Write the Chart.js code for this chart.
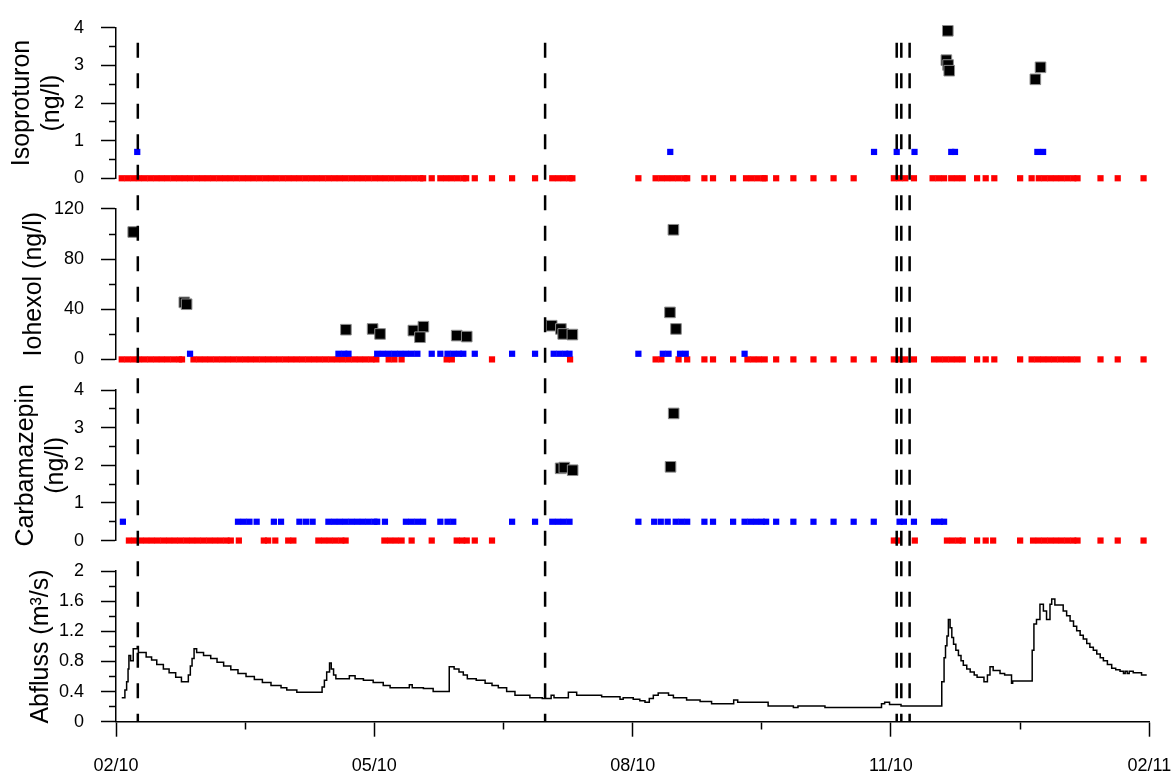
<!DOCTYPE html>
<html>
<head>
<meta charset="utf-8">
<title>Isoproturon, Iohexol, Carbamazepin und Abfluss</title>
<script src="https://cdn.jsdelivr.net/npm/chart.js@4.4.1/dist/chart.umd.min.js"></script>
<style>
  html, body { margin: 0; padding: 0; background: #fff; }
  #wrap { width: 1172px; height: 771px; }
</style>
</head>
<body>
<div id="wrap"><canvas id="chart" width="1172" height="771"></canvas></div>
<script>
// x = Tage seit Anfang 02/10, Achse in gleichen Abständen beschriftet
const X_LABELS = ['02/10', '05/10', '08/10', '11/10', '02/11'];
const EVENT_DAYS = [7.6, 149.5, 272.0, 273.6, 276.5];
const EVENT_TOP = 3.6; // Beginn der Linien in Isoproturon-Einheiten

// Isoproturon (ng/l)
const ISO_DAYS = [289.8, 289.3, 289.9, 290.3, 322.1, 320.3];
const ISO_VALUES = [3.92, 3.14, 3.01, 2.86, 2.95, 2.63];
const ISO_LOQ = 0.7;
const ISO_LOQ_DAYS = [7.4, 193.1, 264.1, 272.0, 278.2, 291.0, 292.3, 321.0, 323.0];
const ISO_ND_DAYS = [
  2, 4, 6, 8, 10, 12, 14, 16, 18, 20, 22, 24, 26, 28, 30, 32, 34, 36, 38, 40,
  42, 44, 46, 48, 50, 52, 54, 56, 58, 60, 62, 64, 66, 68, 70, 72, 74, 76, 78, 80,
  82, 84, 86, 88, 90, 92, 94, 96, 98, 100, 102, 104, 106, 107,
  110, 113, 115, 117, 119, 121, 122, 125, 131, 138, 146,
  152, 154, 156, 158, 159, 182,
  188, 190, 192, 194, 196, 198, 199, 205, 208, 215,
  219.5, 221.5, 223.5, 225.5, 226, 230, 236, 243, 250, 257,
  271, 273, 275, 278, 284.5, 286.5, 288.5, 291, 293, 295, 300, 303, 306,
  315, 319, 321.5, 323.5, 325.5, 327.5, 329.5, 331.5, 333.5, 335, 343, 349, 358
];

// Iohexol (ng/l)
const IOH_DAYS = [6.0, 23.8, 24.6, 80.1, 89.4, 92.0, 103.6, 107.1, 105.9, 118.7, 122.2,
  151.8, 155.0, 155.8, 159.0, 194.2, 193.0, 195.1];
const IOH_VALUES = [101.6, 45.5, 44.0, 23.7, 24.3, 20.3, 23.0, 26.1, 17.7, 19.0, 18.2,
  26.9, 24.3, 20.3, 19.8, 103.4, 37.5, 24.3];
const IOH_LOQ = 4.5;
const IOH_LOQ_DAYS = [25.8, 77.5, 79.5, 81, 91, 93, 95, 97, 99, 101, 103, 105, 110, 113,
  115.5, 117.5, 119.5, 121, 125, 138, 146, 152.5, 154.5, 156.5, 158, 182,
  190.5, 192.5, 196.5, 198.5, 219];
const IOH_ND_DAYS = [
  2, 4, 6, 8, 10, 12, 14, 16, 18, 20, 22, 23,
  27, 29, 31, 33, 35, 37, 39, 41, 43, 45, 47, 49, 51, 53, 55, 57, 59, 61, 63, 65,
  67, 69, 71, 73, 75, 77, 79, 81, 83, 85, 87, 89, 90.7,
  95, 97, 99.5, 115.2, 117, 131, 158.2, 188, 190, 196, 199, 205, 208, 215,
  220, 222, 224, 226, 230, 236, 243, 250, 257, 264,
  271, 273, 275, 278, 285, 287, 289, 291, 293, 295, 300, 303, 306, 315,
  319, 321, 323, 325, 327, 329, 331, 333, 335, 343, 349, 358
];

// Carbamazepin (ng/l)
const CARB_DAYS = [154.9, 156.2, 159.1, 194.3, 193.2];
const CARB_VALUES = [1.92, 1.94, 1.87, 3.38, 1.96];
const CARB_LOQ = 0.5;
const CARB_LOQ_DAYS = [2.4, 42.5, 44.5, 46.5, 49, 55, 57.5, 63.9, 66.2, 68.5,
  74, 76, 78, 80, 82, 84, 86, 88, 90, 91, 93.7, 101, 103, 105, 107, 113, 115.5, 117.5,
  138, 146, 152, 154, 156, 158, 182, 187.5, 189.8, 192.2, 195, 197, 199,
  205, 208, 215, 219, 221, 223, 225, 226.5, 230, 236, 243, 250, 257, 264,
  273, 274.5, 278, 285, 287, 288.5];
const CARB_ND_DAYS = [
  4.5, 6.5, 8.5, 10.5, 12.5, 14.5, 16.5, 18.5, 20.5, 22.5, 24.5, 26.5, 28.5, 30.5,
  32.5, 34.5, 36.5, 38.5, 40, 42.8, 51.5, 53, 55.5, 60, 61.8,
  70.5, 72.5, 74.5, 76.5, 78.5, 80, 93.5, 95.5, 97.5, 99.5, 103, 110,
  118.7, 120.6, 122.2, 125, 131,
  271, 272.5, 278.3, 289.5, 291.5, 293.5, 295, 300, 303, 305.6, 315,
  319.5, 321.5, 323.5, 325.5, 327.5, 329.5, 331.5, 333.5, 335, 343, 349, 358
];

// Abfluss (m³/s)
const Q_DAYS = [
  2, 3.1, 3.7, 4.2, 4.5, 5.1, 6.0, 7.4, 7.8, 10.5, 12.4, 14.2, 16.5, 18.5, 20.8, 22.8,
  25.2, 25.9, 26.5, 27.2, 28.1, 30.5, 33.0, 35.2, 37.5, 40.0, 42.5, 45.3, 48.2, 51.0,
  54.0, 57.5, 59.5, 63.0, 71.8, 72.6, 73.4, 74.4, 75.0, 75.8, 76.6, 81.3, 83.3, 86.2,
  89.6, 93.1, 95.5, 102.2, 103.2, 107.1, 110.5, 116.1, 117.8, 119.5, 121.0, 122.4,
  125.5, 128.6, 131.0, 133.2, 136.1, 139.0, 144.2, 148.5, 151.6, 152.6, 157.6, 160.5,
  169.2, 175.6, 176.7, 180.2, 182.5, 184.3, 185.8, 187.2, 188.9, 192.5, 194.2, 198.8,
  203.5, 207.5, 215.2, 216.6, 227.2, 236.0, 237.6, 247.0, 266.7, 267.8, 269.5, 273.5,
  287.7, 288.5, 289.0, 289.5, 290.0, 290.6, 291.2, 291.8, 292.6, 293.5, 294.4, 295.2,
  296.4, 297.6, 299.0, 300.0, 302.4, 303.6, 304.5, 305.6, 308.0, 309.6, 312.0, 312.4,
  319.2, 319.8, 320.7, 321.9, 323.1, 324.2, 325.4, 326.0, 327.1, 330.0, 331.2, 332.4,
  333.6, 334.7, 335.9, 337.0, 338.2, 339.3, 340.5, 341.7, 342.9, 344.0, 345.4, 346.9,
  348.3, 349.8, 351.0, 351.6, 352.3, 353.0, 354.4, 357.3, 359.1
];
const Q_VALUES = [
  0.32, 0.42, 0.53, 0.70, 0.88, 0.81, 0.97, 1.00, 0.92, 0.86, 0.82, 0.76, 0.70, 0.65, 0.59, 0.53,
  0.62, 0.74, 0.84, 0.97, 0.92, 0.88, 0.84, 0.79, 0.74, 0.69, 0.64, 0.60, 0.56, 0.52,
  0.48, 0.45, 0.42, 0.39, 0.46, 0.55, 0.66, 0.78, 0.70, 0.62, 0.57, 0.61, 0.57, 0.55,
  0.52, 0.48, 0.45, 0.49, 0.45, 0.44, 0.40, 0.73, 0.70, 0.66, 0.62, 0.57,
  0.55, 0.51, 0.48, 0.45, 0.40, 0.35, 0.32, 0.31, 0.35, 0.32, 0.39, 0.35,
  0.33, 0.30, 0.32, 0.30, 0.28, 0.26, 0.31, 0.35, 0.38, 0.35, 0.32, 0.29,
  0.27, 0.24, 0.29, 0.26, 0.21, 0.19, 0.21, 0.19, 0.24, 0.26, 0.23, 0.21,
  0.53, 0.85, 1.01, 1.14, 1.36, 1.25, 1.12, 1.03, 0.95, 0.88, 0.81, 0.75,
  0.70, 0.66, 0.62, 0.59, 0.53, 0.62, 0.73, 0.68, 0.64, 0.62, 0.51, 0.54,
  0.95, 1.30, 1.36, 1.56, 1.47, 1.36, 1.56, 1.63, 1.55, 1.47, 1.41, 1.34,
  1.27, 1.21, 1.15, 1.10, 1.04, 0.99, 0.95, 0.90, 0.85, 0.81, 0.76, 0.71,
  0.69, 0.67, 0.64, 0.67, 0.64, 0.67, 0.65, 0.62, 0.62
];

const FONT = "Arial, 'Liberation Sans', sans-serif";
Chart.defaults.font.family = FONT;
Chart.defaults.color = '#000';

const onStep = (v, step) => Math.abs(v / step - Math.round(v / step)) < 1e-6;
const toPoints = (days, values) =>
  days.map((d, i) => ({x: d, y: Array.isArray(values) ? values[i] : values}));

function panelAxis(weight, max, step, major, title, titlePad) {
  return {
    type: 'linear',
    position: 'left',
    stack: 'panels',
    stackWeight: 152,
    weight: weight,
    min: 0,
    max: max,
    afterFit: s => { s.width = 116; },
    border: {color: '#000', width: 1.5},
    grid: {
      drawOnChartArea: false,
      tickLength: 15,
      tickColor: '#000',
      tickWidth: 1.5,
      // kurze Zwischenstriche nur am Achsenrand
      tickBorderDash: c => (c.tick && !onStep(c.tick.value, major)) ? [0, 8, 30, 0] : []
    },
    ticks: {
      stepSize: step,
      autoSkip: false,
      padding: 17,
      color: '#000',
      font: {size: 18},
      callback: v => onStep(v, major) ? String(+v.toFixed(1)) : ''
    },
    title: {display: true, text: title, color: '#000', font: {size: 25}, padding: {top: titlePad, bottom: 0}}
  };
}

function gapAxis(weight) {
  return {
    type: 'linear', position: 'left', stack: 'panels', stackWeight: 31, weight: weight,
    afterFit: s => { s.width = 116; },
    border: {display: false}, grid: {display: false}, ticks: {display: false}
  };
}

// Punkte auf der Nulllinie dürfen über den Panelrand hinausragen
const detStyle = {pointStyle: 'rect', pointRadius: 7.5, backgroundColor: '#000', borderColor: '#8c8c8c', borderWidth: 1, clip: false};
const loqStyle = {pointStyle: 'rect', pointRadius: 4.4, backgroundColor: '#0000ff', borderWidth: 0, clip: false};
const ndStyle = {pointStyle: 'rect', pointRadius: 4.4, backgroundColor: '#ff0000', borderWidth: 0, clip: false};

const eventLines = {
  id: 'eventLines',
  afterDatasetsDraw(chart) {
    const {ctx, scales} = chart;
    const top = scales.yIso.getPixelForValue(EVENT_TOP);
    const bottom = scales.yQ.getPixelForValue(0);
    ctx.save();
    ctx.strokeStyle = '#000';
    ctx.lineWidth = 2.5;
    ctx.setLineDash([15, 15.5]);
    EVENT_DAYS.forEach(d => {
      const x = scales.x.getPixelForValue(d);
      ctx.beginPath();
      ctx.moveTo(x, top);
      ctx.lineTo(x, bottom);
      ctx.stroke();
    });
    ctx.restore();
  }
};

new Chart(document.getElementById('chart'), {
  type: 'scatter',
  data: {
    datasets: [
      {label: 'Isoproturon', data: toPoints(ISO_DAYS, ISO_VALUES), yAxisID: 'yIso', ...detStyle},
      {label: 'Iohexol', data: toPoints(IOH_DAYS, IOH_VALUES), yAxisID: 'yIoh', ...detStyle},
      {label: 'Carbamazepin', data: toPoints(CARB_DAYS, CARB_VALUES), yAxisID: 'yCarb', ...detStyle},
      {label: 'Isoproturon < BG', data: toPoints(ISO_LOQ_DAYS, ISO_LOQ), yAxisID: 'yIso', ...loqStyle},
      {label: 'Iohexol < BG', data: toPoints(IOH_LOQ_DAYS, IOH_LOQ), yAxisID: 'yIoh', ...loqStyle},
      {label: 'Carbamazepin < BG', data: toPoints(CARB_LOQ_DAYS, CARB_LOQ), yAxisID: 'yCarb', ...loqStyle},
      {label: 'Isoproturon n.n.', data: toPoints(ISO_ND_DAYS, 0), yAxisID: 'yIso', ...ndStyle},
      {label: 'Iohexol n.n.', data: toPoints(IOH_ND_DAYS, 0), yAxisID: 'yIoh', ...ndStyle},
      {label: 'Carbamazepin n.n.', data: toPoints(CARB_ND_DAYS, 0), yAxisID: 'yCarb', ...ndStyle},
      {
        label: 'Abfluss', data: toPoints(Q_DAYS, Q_VALUES), yAxisID: 'yQ',
        showLine: true, stepped: true, pointRadius: 0, borderColor: '#000', borderWidth: 1.5
      }
    ]
  },
  options: {
    responsive: false,
    animation: false,
    devicePixelRatio: 1,
    events: [],
    layout: {padding: {left: 0, top: 20.7, right: 22.7, bottom: 0}},
    plugins: {legend: {display: false}, tooltip: {enabled: false}},
    scales: {
      x: {
        type: 'linear',
        position: 'bottom',
        min: 0,
        max: 360,
        afterFit: s => { s.height = 49.3; s.paddingLeft = 0; s.paddingRight = 0; },
        border: {color: '#000', width: 1.5},
        grid: {
          drawOnChartArea: false,
          tickLength: 15,
          tickColor: '#000',
          tickWidth: 1.5,
          tickBorderDash: c => (c.tick && !onStep(c.tick.value, 90)) ? [7, 30] : []
        },
        ticks: {
          stepSize: 45,
          autoSkip: false,
          maxRotation: 0,
          padding: 19,
          color: '#000',
          font: {size: 18},
          callback: v => onStep(v, 90) ? X_LABELS[Math.round(v / 90)] : ''
        }
      },
      yIso: panelAxis(7, 4, 0.5, 1, ['Isoproturon', '(ng/l)'], 7.0),
      gap1: gapAxis(6),
      yIoh: panelAxis(5, 120, 20, 40, 'Iohexol (ng/l)', 19.0),
      gap2: gapAxis(4),
      yCarb: panelAxis(3, 4, 0.5, 1, ['Carbamazepin', '(ng/l)'], 11.0),
      gap3: gapAxis(2),
      yQ: panelAxis(1, 2, 0.2, 0.4, 'Abfluss (m³/s)', 26.0)
    }
  },
  plugins: [eventLines]
});
</script>
</body>
</html>
